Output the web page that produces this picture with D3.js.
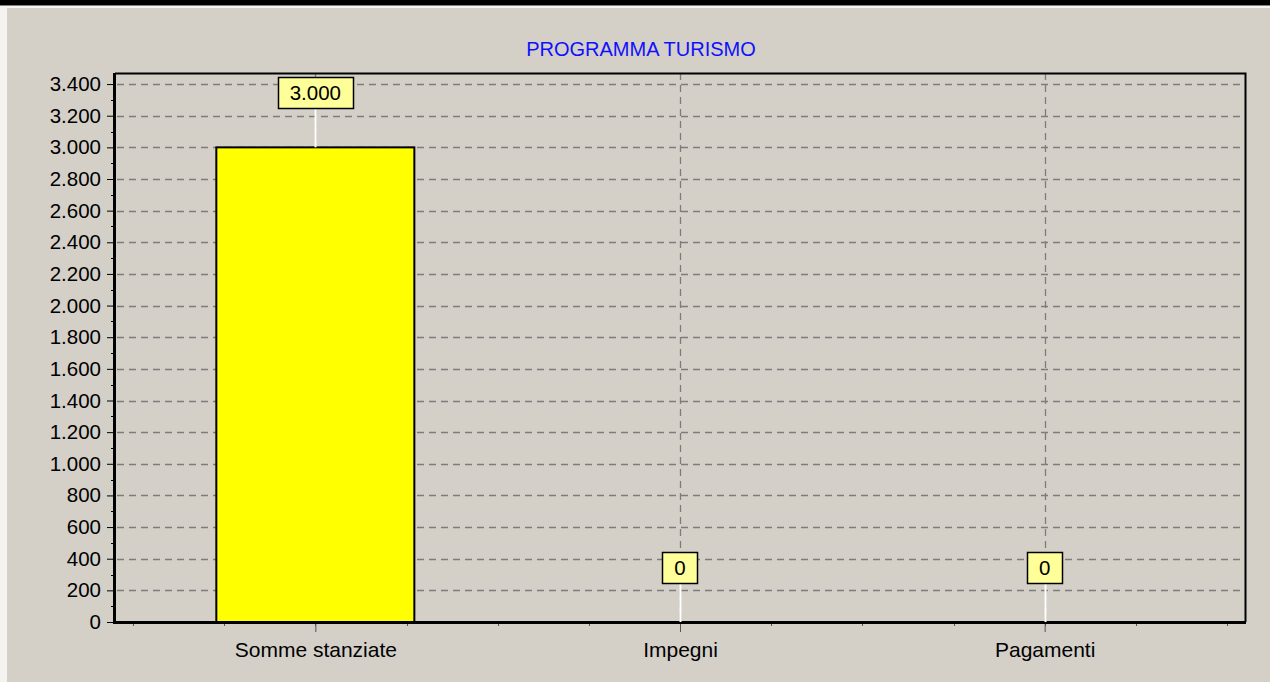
<!DOCTYPE html>
<html>
<head>
<meta charset="utf-8">
<script src="https://cdn.jsdelivr.net/npm/d3@7"></script>
<style>
  html, body { margin: 0; padding: 0; background: #ffffff; }
  svg { display: block; }
  text { font-family: "Liberation Sans", Arial, sans-serif; }
</style>
</head>
<body>
<svg id="chart" width="1270" height="682"></svg>
<script>
// ---- data ----
const title = "PROGRAMMA TURISMO";
const categories = ["Somme stanziate", "Impegni", "Pagamenti"];
const values = [3000, 0, 0];
const yTicks = [0, 200, 400, 600, 800, 1000, 1200, 1400, 1600, 1800, 2000, 2200, 2400, 2600, 2800, 3000, 3200, 3400];
const yMax = 3470;

// ---- layout ----
const W = 1270, H = 682;
const plot = { left: 115, right: 1245, top: 73, bottom: 622 };
const svg = d3.select("#chart");
const it = d3.formatLocale({ decimal: ",", thousands: ".", grouping: [3], currency: ["€", ""] });
const fmt = it.format(",d");

// background
svg.append("rect").attr("x", 0).attr("y", 0).attr("width", W).attr("height", H).attr("fill", "#f4f3ef");
svg.append("rect").attr("x", 7).attr("y", 8).attr("width", W - 7).attr("height", H - 8).attr("fill", "#d4d0c8");
svg.append("rect").attr("x", 0).attr("y", 0).attr("width", W).attr("height", 5).attr("fill", "#000");
svg.append("rect").attr("x", 0).attr("y", 5).attr("width", W).attr("height", 1).attr("fill", "#808080");

const x = d3.scaleBand().domain(categories).range([133, 1227]).padding(0);
const y = d3.scaleLinear().domain([0, yMax]).range([plot.bottom, plot.top]);
const bw = x.bandwidth();
const cx = c => x(c) + bw / 2;
const barW = bw * 0.543;

// title
svg.append("text").attr("x", 641).attr("y", 56).attr("text-anchor", "middle")
  .attr("fill", "#1010ff").attr("font-size", 20).text(title);

// horizontal grid
svg.append("g").selectAll("line").data(yTicks.filter(d => d > 0)).join("line")
  .attr("x1", plot.left + 2).attr("x2", plot.right)
  .attr("y1", d => Math.round(y(d)) + 0.5).attr("y2", d => Math.round(y(d)) + 0.5)
  .attr("stroke", "#7c7c7c").attr("stroke-width", 1.3).attr("stroke-dasharray", "7,5");

// vertical grid at category centers
svg.append("g").selectAll("line").data(categories).join("line")
  .attr("x1", d => Math.round(cx(d)) + 0.5).attr("x2", d => Math.round(cx(d)) + 0.5)
  .attr("y1", plot.top).attr("y2", plot.bottom)
  .attr("stroke", "#7c7c7c").attr("stroke-width", 1.3).attr("stroke-dasharray", "7,5");

// bars
svg.append("g").selectAll("rect").data(values.map((v, i) => ({ c: categories[i], v })).filter(d => d.v > 0)).join("rect")
  .attr("x", d => cx(d.c) - barW / 2).attr("width", barW)
  .attr("y", d => y(d.v)).attr("height", d => y(0) - y(d.v))
  .attr("fill", "#ffff00").attr("stroke", "#000").attr("stroke-width", 2);

// plot frame (top/right)
svg.append("path")
  .attr("d", `M${plot.left},${plot.top + 0.5}H${plot.right + 0.5}V${plot.bottom}`)
  .attr("fill", "none").attr("stroke", "#000").attr("stroke-width", 2);

// y axis
const yAxis = d3.axisLeft(y).tickValues(yTicks).tickFormat(fmt).tickSize(7).tickPadding(6);
const gy = svg.append("g").attr("transform", `translate(${plot.left - 1},0)`).call(yAxis);
gy.select(".domain").remove();
gy.selectAll("text").attr("font-size", 20.5).attr("fill", "#000").attr("font-family", "Liberation Sans, Arial, sans-serif");
gy.selectAll(".tick line").attr("stroke", "#000");
// minor y ticks
const yMinor = d3.range(100, yMax, 200);
svg.append("g").selectAll("line").data(yMinor).join("line")
  .attr("x1", plot.left - 4).attr("x2", plot.left)
  .attr("y1", d => Math.round(y(d)) + 0.5).attr("y2", d => Math.round(y(d)) + 0.5)
  .attr("stroke", "#000");
svg.append("line").attr("x1", plot.left - 0.5).attr("x2", plot.left - 0.5)
  .attr("y1", plot.top).attr("y2", plot.bottom + 2).attr("stroke", "#000").attr("stroke-width", 3);

// x axis
const xAxis = d3.axisBottom(d3.scalePoint().domain(categories).range([cx(categories[0]), cx(categories[2])]))
  .tickSize(9).tickPadding(10);
const gx = svg.append("g").attr("transform", `translate(0,${plot.bottom + 1})`).call(xAxis);
gx.select(".domain").remove();
gx.selectAll("text").attr("font-size", 21).attr("fill", "#000").attr("font-family", "Liberation Sans, Arial, sans-serif");
gx.selectAll(".tick line").attr("stroke", "#555");
// minor x ticks
const xMinor = d3.range(0, categories.length * 4 + 1).map(k => 133 + k * bw / 4);
svg.append("g").selectAll("line").data(xMinor).join("line")
  .attr("x1", d => Math.round(d) + 0.5).attr("x2", d => Math.round(d) + 0.5)
  .attr("y1", plot.bottom).attr("y2", plot.bottom + 4)
  .attr("stroke", "#555");
svg.append("line").attr("x1", plot.left - 2).attr("x2", plot.right + 1)
  .attr("y1", plot.bottom + 0.5).attr("y2", plot.bottom + 0.5).attr("stroke", "#000").attr("stroke-width", 3);

// value labels
const lbl = svg.append("g").selectAll("g").data(values.map((v, i) => ({ c: categories[i], v }))).join("g");
lbl.append("line")
  .attr("x1", d => Math.round(cx(d.c)) + 0.5).attr("x2", d => Math.round(cx(d.c)) + 0.5)
  .attr("y1", d => y(d.v) - 39).attr("y2", d => y(d.v))
  .attr("stroke", "#ffffff").attr("stroke-width", 2);
lbl.each(function(d) {
  const g = d3.select(this);
  const t = g.append("text").attr("x", cx(d.c)).attr("y", y(d.v) - 39 - 8)
    .attr("text-anchor", "middle").attr("font-size", 20.5).attr("fill", "#000").text(fmt(d.v));
  const tw = t.node().getComputedTextLength();
  g.insert("rect", "text")
    .attr("x", Math.round(cx(d.c) - tw / 2 - 12) + 0.5).attr("y", Math.round(y(d.v) - 39 - 31) + 0.5)
    .attr("width", Math.round(tw + 24)).attr("height", 31)
    .attr("fill", "#ffff99").attr("stroke", "#000").attr("stroke-width", 1.5);
});
</script>
</body>
</html>
